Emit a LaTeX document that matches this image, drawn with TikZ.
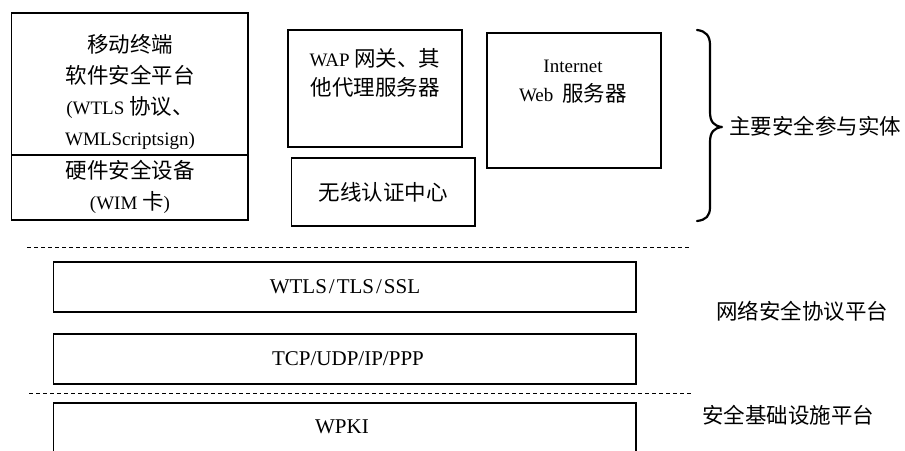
\documentclass[tikz,border=0pt]{standalone}
\usepackage{fontspec}
\setmainfont{Liberation Serif}
\newfontfamily\cjk{Noto Sans CJK SC}
\newcommand\zh[1]{{\cjk\fontsize{21.5}{24}\selectfont #1}}
\newcommand\ts{\hspace{2pt}}
\begin{document}
\begin{tikzpicture}[x=1pt,y=-1pt,
  box/.style={draw,line width=1.6pt,inner sep=0pt},
  lbl/.style={inner sep=0pt,text height=15pt,text depth=1pt,font=\fontsize{19}{21}\selectfont},
  biglbl/.style={lbl,font=\fontsize{21}{23}\selectfont},
  sep/.style={line width=1pt,dash pattern=on 4pt off 3pt},
  bracepath/.style={line width=2.2pt,line cap=round,line join=round}]
\useasboundingbox (0,0) rectangle (905,450);
\clip (0,0) rectangle (905,450);
% boxes
\node[box,minimum width=236.5pt,minimum height=142pt] (mtop) at (129.75,84) {};
\node[box,minimum width=236.5pt,minimum height=65pt] (mbot) at (129.75,187.5) {};
\node[box,minimum width=174pt,minimum height=117pt] (wap) at (375,88.5) {};
\node[box,minimum width=183.5pt,minimum height=68pt] (ca) at (383.25,192) {};
\node[box,minimum width=174pt,minimum height=135pt] (web) at (574,100.5) {};
\node[box,minimum width=582.5pt,minimum height=50pt] (wtls) at (344.75,287) {};
\node[box,minimum width=582.5pt,minimum height=50pt] (tcp) at (344.75,359) {};
\node[box,minimum width=582.5pt,minimum height=54pt] (wpki) at (344.75,430) {};
% texts in boxes
\node[lbl] (t1) at (130,45) {\zh{移动终端}};
\node[lbl] (t2) at (130,76) {\zh{软件安全平台}};
\node[lbl] (t3) at (130,107) {(WTLS \zh{协议、}};
\node[lbl] (t4) at (130,138) {WMLScriptsign)};
\node[lbl] (t5) at (130,171) {\zh{硬件安全设备}};
\node[lbl] (t6) at (130,202) {(WIM \zh{卡})};
\node[lbl] (t7) at (375,59) {WAP \zh{网关、其}};
\node[lbl] (t8) at (375,88) {\zh{他代理服务器}};
\node[lbl] (t9) at (573,65) {Internet};
\node[lbl] (t10) at (573,94) {Web\hspace{9pt}\zh{服务器}};
\node[lbl] (t11) at (383,193) {\zh{无线认证中心}};
\node[biglbl] (t12) at (345,286) {WTLS\ts/\ts TLS\ts/\ts SSL};
\node[biglbl] (t13) at (348,358) {TCP/UDP/IP/PPP};
\node[biglbl] (t14) at (342,426) {WPKI};
% right side labels
\node[lbl,anchor=west] (r1) at (729,127) {\zh{主要安全参与实体}};
\node[lbl,anchor=west] (r2) at (716,312) {\zh{网络安全协议平台}};
\node[lbl,anchor=west] (r3) at (702,416) {\zh{安全基础设施平台}};
% brace
\draw[bracepath] (697,30) .. controls (706,31) and (710,36) .. (710,45) -- (710,112)
  .. controls (710,122) and (714,126) .. (722,127)
  .. controls (714,128) and (710,132) .. (710,142) -- (710,207)
  .. controls (710,216) and (706,220) .. (697,221);
% dashed separators
\coordinate (d1a) at (27,247); \coordinate (d1b) at (689,247);
\coordinate (d2a) at (29,393); \coordinate (d2b) at (692,393);
\draw[sep] (d1a) -- (d1b);
\draw[sep] (d2a) -- (d2b);
\end{tikzpicture}
\end{document}
